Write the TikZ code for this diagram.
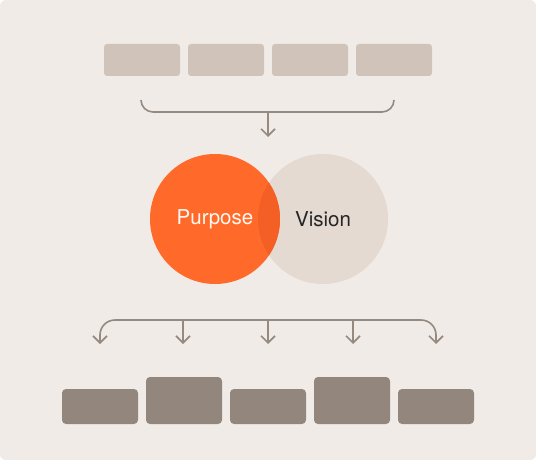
\documentclass[tikz,border=0pt]{standalone}
\usepackage{fontspec}
\setmainfont{TeX Gyre Heros}
\usepackage{tikz}
\usetikzlibrary{arrows.meta,positioning}
\definecolor{bgpaper}{HTML}{F0EBE6}
\definecolor{topbox}{HTML}{D0C4BA}
\definecolor{botbox}{HTML}{93877D}
\definecolor{linkgray}{HTML}{948A81}
\definecolor{purposeorange}{HTML}{FF6A2B}
\definecolor{overlaporange}{HTML}{F35F25}
\definecolor{visionbeige}{HTML}{E5DAD1}

\begin{document}
\begin{tikzpicture}[
    x=1pt, y=-1pt,
    node distance=8pt,
    topitem/.style={rectangle, fill=topbox, rounded corners=3pt, minimum width=76pt, minimum height=32pt, inner sep=0pt, outer sep=0pt},
    botitem/.style={rectangle, fill=botbox, rounded corners=4pt, minimum width=76pt, minimum height=35pt, inner sep=0pt, outer sep=0pt},
    tallitem/.style={botitem, minimum height=47pt},
    ring/.style={circle, minimum size=130pt, inner sep=0pt, font=\fontsize{20.5}{24}\selectfont},
    link/.style={draw=linkgray, line width=1.6pt},
    arrow/.style={link, -{Straight Barb[length=7pt, width=14pt]}}
]

% Background
\fill[white] (0,0) rectangle (536,460);
\fill[bgpaper, rounded corners=6pt] (0,0) rectangle (536,460);
\useasboundingbox (0,0) rectangle (536,460);

% Top row
\node[topitem] (t1) at (142,60) {};
\node[topitem, right=of t1] (t2) {};
\node[topitem, right=of t2] (t3) {};
\node[topitem, right=of t3] (t4) {};

% Circles
\node[ring, fill=visionbeige, text=black!85] (vision) at (323,219) {Vision};
\node[ring, fill=purposeorange, text=white!95!orange] (purpose) at (215,219) {Purpose};
\begin{scope}
  \clip (vision.center) circle (65pt);
  \fill[overlaporange] (purpose.center) circle (65pt);
\end{scope}

% Bottom row
\node[botitem, anchor=south west] (b1) at (62,424) {};
\node[tallitem, anchor=south west] (b2) at ([xshift=8pt]b1.south east) {};
\node[botitem, anchor=south west] (b3) at ([xshift=8pt]b2.south east) {};
\node[tallitem, anchor=south west] (b4) at ([xshift=8pt]b3.south east) {};
\node[botitem, anchor=south west] (b5) at ([xshift=8pt]b4.south east) {};

% Top bracket
\coordinate (inL) at (141,100);
\coordinate (inR) at (394,100);
\coordinate (inMid) at (268,112);
\coordinate (inTip) at (268,137);
\draw[link, rounded corners=12pt] (inL) -- (141,112) -- (394,112) -- (inR);
\draw[arrow] (inMid) -- (inTip);

% Bottom bracket
\coordinate (outL) at (100,344);
\coordinate (outR) at (436,344);
\draw[arrow, rounded corners=15pt, {Straight Barb[length=7pt, width=14pt]}-{Straight Barb[length=7pt, width=14pt]}] (outL) -- (100,320) -- (436,320) -- (outR);
\foreach \x/\name in {183/o2, 268/o3, 353/o4} {
  \coordinate (\name) at (\x,344);
  \draw[arrow] (\x,320) -- (\name);
}

\end{tikzpicture}
\end{document}
